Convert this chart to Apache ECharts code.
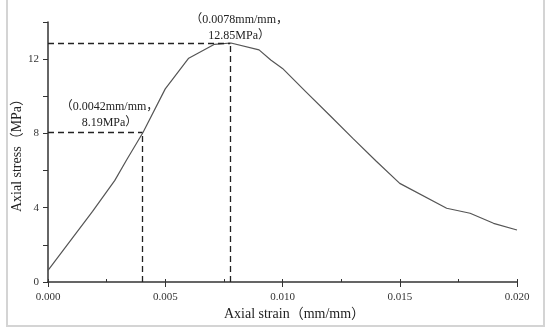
<!DOCTYPE html>
<html>
<head>
<meta charset="utf-8">
<script src="https://cdn.jsdelivr.net/npm/echarts@6/dist/echarts.min.js"></script>
<style>html,body{margin:0;padding:0;background:#fff}#c{width:550px;height:333px}</style>
</head>
<body>
<div id="c"></div>
<script>
// Data
const strain = [0, 0.0019, 0.00285, 0.00335, 0.00405, 0.0050, 0.0060, 0.0071, 0.0078, 0.0090, 0.0095, 0.0100, 0.0110, 0.0120, 0.0130, 0.0140, 0.0150, 0.0170, 0.0180, 0.0190, 0.0200];
const stress = [0.63, 3.8, 5.47, 6.57, 8.05, 10.4, 12.05, 12.8, 12.87, 12.5, 11.95, 11.5, 10.24, 8.99, 7.73, 6.5, 5.31, 3.97, 3.7, 3.16, 2.8];
const refStrain = [0.00403, 0.00777];
const refStress = [8.05, 12.88];
const refLabels = ['（0.0042mm/mm，\n8.19MPa）', '（0.0078mm/mm，\n12.85MPa）'];
const xTitle = 'Axial strain（mm/mm）';
const yTitle = 'Axial stress（MPa）';

const font = '"Liberation Serif", "Times New Roman", "Noto Sans CJK SC", serif';
const lineData = strain.map((s, i) => [s, stress[i]]);

const dashLines = [];
refStrain.forEach((x, i) => {
  const y = refStress[i];
  dashLines.push([{coord: [0, y]}, {coord: [x, y]}]);
  dashLines.push([{coord: [x, 0]}, {coord: [x, y]}]);
});
const labelOffsets = [[-33, 3], [9, 6]];
const marks = refStrain.map((x, i) => ({
  coord: [x, refStress[i]],
  label: {
    show: true, formatter: refLabels[i], position: 'top',
    offset: labelOffsets[i], fontFamily: font, fontSize: 12, color: '#222',
    lineHeight: 16, align: 'center'
  }
}));

const chart = echarts.init(document.getElementById('c'), null, {renderer: 'canvas'});
chart.setOption({
  animation: false,
  backgroundColor: '#fff',
  grid: {left: 48, right: 33, top: 22, bottom: 51, containLabel: false, outerBoundsMode: 'none'},
  graphic: [{
    type: 'rect', shape: {x: 7, y: -5, width: 537, height: 331},
    style: {fill: 'none', stroke: '#d4d4d4', lineWidth: 2}, silent: true
  }],
  xAxis: [{
    type: 'value', min: 0, max: 0.02, interval: 0.0025,
    axisLine: {lineStyle: {color: '#333', width: 1.5}},
    axisTick: {show: true, inside: true, length: 3, lineStyle: {color: '#333'}},
    axisLabel: {show: false},
    splitLine: {show: false}
  }, {
    type: 'value', min: 0, max: 0.02, interval: 0.005, position: 'bottom',
    axisLine: {show: false},
    axisTick: {show: true, length: 5, lineStyle: {color: '#333'}},
    axisLabel: {
      formatter: v => v.toFixed(3), fontFamily: font, fontSize: 11, color: '#333', margin: 10
    },
    splitLine: {show: false},
    name: xTitle, nameLocation: 'middle', nameGap: 25, nameMoveOverlap: false,
    nameTextStyle: {fontFamily: font, fontSize: 14, color: '#222', padding: [0, 0, 0, 24]}
  }],
  yAxis: {
    type: 'value', min: 0, max: 14, interval: 2,
    axisLine: {show: true, lineStyle: {color: '#333', width: 1.5}},
    axisTick: {show: true, length: 5, lineStyle: {color: '#333'}},
    axisLabel: {
      formatter: v => (v % 4 === 0 ? String(v) : ''), fontFamily: font, fontSize: 11, color: '#333', margin: 9
    },
    splitLine: {show: false},
    name: yTitle, nameLocation: 'middle', nameGap: 24, nameRotate: 90, nameMoveOverlap: false,
    nameTextStyle: {fontFamily: font, fontSize: 14, color: '#222'}
  },
  series: [{
    type: 'line', data: lineData, xAxisIndex: 0, symbol: 'none',
    lineStyle: {color: '#555', width: 1.2},
    markLine: {
      silent: true, symbol: ['none', 'none'], label: {show: false},
      lineStyle: {color: '#222', type: [6, 4], width: 1.3},
      data: dashLines
    },
    markPoint: {
      symbol: 'circle', symbolSize: 0, silent: true,
      data: marks
    }
  }]
});
</script>
</body>
</html>
